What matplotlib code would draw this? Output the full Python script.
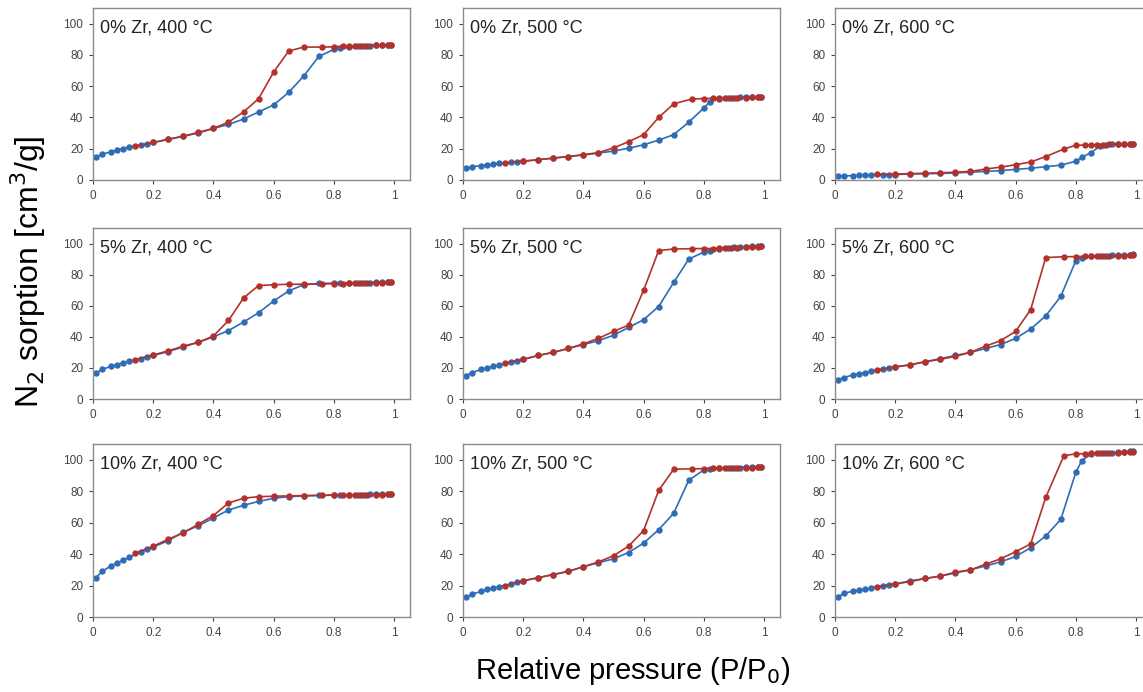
import matplotlib
matplotlib.use("Agg")
import matplotlib.pyplot as plt

plt.rcParams['font.family'] = ['Liberation Sans', 'DejaVu Sans']

# relative pressure points (adsorption / desorption branches)
p_ads = [0.01, 0.03, 0.06, 0.08, 0.10, 0.12, 0.16, 0.18, 0.20, 0.25, 0.30, 0.35, 0.40,
         0.45, 0.50, 0.55, 0.60, 0.65, 0.70, 0.75, 0.80, 0.82, 0.85, 0.88, 0.90, 0.92,
         0.94, 0.96, 0.98, 0.99]
p_des = [0.99, 0.98, 0.96, 0.94, 0.91, 0.89, 0.87, 0.85, 0.83, 0.80, 0.76, 0.70, 0.65,
         0.60, 0.55, 0.50, 0.45, 0.40, 0.35, 0.30, 0.25, 0.20, 0.14]

titles = ['0% Zr, 400 °C', '0% Zr, 500 °C', '0% Zr, 600 °C',
          '5% Zr, 400 °C', '5% Zr, 500 °C', '5% Zr, 600 °C',
          '10% Zr, 400 °C', '10% Zr, 500 °C', '10% Zr, 600 °C']

# adsorption [cm3/g]
ads_0_400 = [14.5, 16.5, 18, 19.3, 20, 21, 22.5, 23.3, 24, 26, 28, 30, 33,
             35.5, 39, 43.5, 48, 56, 66.5, 79, 83.5, 84.3, 85, 85.5, 85.8, 86,
             86.2, 86.3, 86.5, 86.5]
ads_0_500 = [7.5, 8.5, 9.2, 9.6, 10.2, 10.6, 11.2, 11.6, 12, 13, 14, 15, 16,
             17.2, 18.5, 20.3, 22.5, 25.5, 29, 37, 46, 50, 52, 52.5, 52.7, 52.8,
             53, 53, 53.1, 53.2]
ads_0_600 = [2.5, 2.6, 2.8, 3, 3, 3, 3.2, 3.3, 3.5, 3.8, 4, 4.2, 4.5,
             5, 5.5, 6, 6.8, 7.5, 8.5, 9.5, 12, 14.5, 17.5, 21.5, 22.5, 22.8,
             23, 23, 23.2, 23.2]
ads_5_400 = [16.5, 19, 21, 22, 23.3, 24.3, 26, 27, 28, 30.5, 33.5, 36.5, 40,
             44, 49.5, 55.5, 63, 69.5, 73.5, 74.3, 74.5, 74.5, 74.6, 74.8, 74.8, 74.9,
             75, 75, 75, 75]
ads_5_500 = [15, 17, 19, 20, 21, 22, 24, 24.7, 25.5, 28, 30, 32.5, 35,
             37.5, 41, 46, 51, 59.5, 75, 90, 94.5, 95.5, 96.5, 97.2, 97.5, 97.8,
             98, 98.2, 98.5, 98.5]
ads_5_600 = [12.3, 13.8, 15.5, 16.2, 17, 18, 19.3, 20, 20.5, 22, 24, 26, 28,
             30, 32.5, 35, 39, 45, 53.5, 66, 89, 91, 91.8, 92, 92.2, 92.4,
             92.5, 92.6, 92.8, 93]
ads_10_400 = [25, 29, 32.5, 34.5, 36, 38, 41.5, 43, 44.5, 48.5, 54, 58, 63,
              68, 71, 73.5, 75.5, 76.5, 77, 77.3, 77.5, 77.5, 77.6, 77.8, 77.8, 77.9,
              78, 78, 78.2, 78.2]
ads_10_500 = [12.5, 14.5, 16.3, 17.5, 18.5, 19.2, 21, 22, 23, 25, 27, 29, 32,
              34.5, 37, 41, 47, 55.5, 66, 87, 93.5, 94.2, 94.5, 94.8, 95, 95,
              95.2, 95.3, 95.5, 95.5]
ads_10_600 = [13, 15, 16.5, 17, 17.5, 18.5, 20, 20.5, 21, 23, 24.5, 26, 28,
              30, 32.5, 35, 38.5, 44, 51.5, 62, 92, 99.5, 103.5, 104, 104.3, 104.5,
              104.7, 105, 105.3, 105.5]

# desorption [cm3/g]
des_0_400 = [86.5, 86.4, 86.3, 86.1, 86, 85.8, 85.7, 85.5, 85.4, 85.2, 85, 85, 82.5,
             69, 52, 43.5, 37, 33, 30.5, 28, 26, 24, 21.5]
des_0_500 = [53, 52.9, 52.8, 52.7, 52.5, 52.5, 52.4, 52.3, 52.2, 52.1, 51.8, 48.7, 40,
             29, 24.5, 20.5, 17.5, 16.2, 15, 14, 13, 12, 11]
des_0_600 = [23, 23, 23, 23, 22.8, 22.7, 22.6, 22.5, 22.3, 22.2, 19.8, 15, 11.5,
             9.8, 8.2, 7, 5.5, 5, 4.6, 4.3, 4.1, 3.8, 3.6]
des_5_400 = [75, 75, 74.9, 74.8, 74.7, 74.6, 74.5, 74.3, 74.2, 74.2, 74, 73.8, 73.8,
             73.5, 73, 65, 50.5, 40.5, 36.5, 34, 31, 28.3, 25.3]
des_5_500 = [98.3, 98, 97.8, 97.6, 97.4, 97.2, 97, 97, 96.8, 96.8, 96.7, 96.5, 95.5,
             70, 47.5, 43.5, 39, 35.5, 32.5, 30, 28, 25.5, 23]
des_5_600 = [92.8, 92.5, 92.3, 92.2, 92, 92, 91.8, 91.8, 91.7, 91.6, 91.5, 91, 57.5,
             43.5, 37.5, 34, 30, 27.5, 25.5, 24, 22, 20.7, 18.5]
des_10_400 = [78, 77.9, 77.8, 77.8, 77.7, 77.6, 77.6, 77.5, 77.5, 77.5, 77.3, 77.2, 77,
              76.8, 76.5, 75.5, 72.5, 64.5, 59, 53.5, 49.5, 45, 40.5]
des_10_500 = [95.5, 95.3, 95, 95, 94.8, 94.7, 94.5, 94.5, 94.5, 94.3, 94.2, 94, 80.5,
              55, 45, 39, 35, 32, 29, 27, 25, 23, 20]
des_10_600 = [105.2, 105, 104.8, 104.5, 104.3, 104, 104, 104, 103.8, 103.8, 102.5, 76, 46.5,
              41.5, 37, 33.5, 30, 28.5, 26, 24.5, 22.5, 21, 19]

ads_all = [ads_0_400, ads_0_500, ads_0_600, ads_5_400, ads_5_500, ads_5_600,
           ads_10_400, ads_10_500, ads_10_600]
des_all = [des_0_400, des_0_500, des_0_600, des_5_400, des_5_500, des_5_600,
           des_10_400, des_10_500, des_10_600]

blue = '#2E6CB5'
red = '#B3312B'

W, H = 1143, 692
fig = plt.figure(figsize=(W / 100, H / 100), dpi=100)

col_left = [93, 463, 835]
row_top = [8, 228, 444]
row_bot = [180, 399, 617]
ax_w = 317

for i in range(9):
    r, c = divmod(i, 3)
    ax = fig.add_axes([col_left[c] / W, 1 - row_bot[r] / H,
                       ax_w / W, (row_bot[r] - row_top[r]) / H])
    ax.plot(p_ads, ads_all[i], color=blue, lw=1.2, marker='o', ms=3.6, zorder=2)
    ax.plot(p_des, des_all[i], color=red, lw=1.2, marker='o', ms=3.6, zorder=3)
    ax.set_xlim(0, 1.053)
    ax.set_ylim(0, 110)
    ax.set_xticks([0, 0.2, 0.4, 0.6, 0.8, 1])
    ax.set_xticklabels(['0', '0.2', '0.4', '0.6', '0.8', '1'])
    ax.set_yticks([0, 20, 40, 60, 80, 100])
    ax.tick_params(labelsize=8.5, colors='#444444', length=3, width=0.8, pad=4)
    for s in ax.spines.values():
        s.set_color('#8c8c8c')
        s.set_linewidth(1.0)
    ax.text(0.022, 0.885, titles[i], transform=ax.transAxes, fontsize=13,
            color='#222222', va='center', ha='left')

fig.text(28 / W, 1 - 272 / H, 'N$_2$ sorption [cm$^3$/g]', rotation=90,
         ha='center', va='center', fontsize=23)
fig.text(633 / W, 1 - 671 / H, 'Relative pressure (P/P$_0$)',
         ha='center', va='center', fontsize=21)

fig.savefig('out.png', dpi=100)
